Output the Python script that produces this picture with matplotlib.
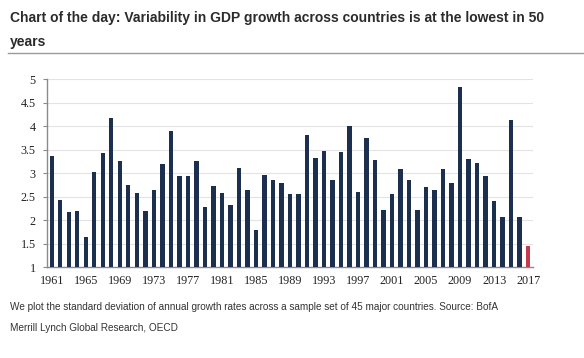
import matplotlib
import numpy as np

matplotlib.use("Agg")
import matplotlib.pyplot as plt
from matplotlib.lines import Line2D

years = list(range(1961, 2018))
values = [3.37, 2.43, 2.17, 2.20, 1.65, 3.03, 3.43, 4.17, 3.25, 2.75,
          2.58, 2.20, 2.65, 3.20, 3.90, 2.93, 2.93, 3.25, 2.27, 2.73,
          2.58, 2.33, 3.10, 2.65, 1.78, 2.95, 2.85, 2.78, 2.55, 2.55,
          3.82, 3.33, 3.48, 2.85, 3.45, 4.00, 2.60, 3.75, 3.28, 2.22,
          2.55, 3.09, 2.86, 2.22, 2.70, 2.63, 3.08, 2.79, 4.84, 3.30,
          3.21, 2.93, 2.40, 2.06, 4.14, 2.06, 1.44]
label_years = list(range(1961, 2018, 4))
yticks = [1, 1.5, 2, 2.5, 3, 3.5, 4, 4.5, 5]

navy = "#1c2f4f"
red = "#c33a4c"
colors = [navy] * (len(years) - 1) + [red]

fig = plt.figure(figsize=(5.84, 3.58), dpi=100)
ax = fig.add_axes([0.080, 0.254, 0.833, 0.525])

ax.bar(years, [v - 1 for v in values], bottom=1, width=0.5, color=colors, zorder=3)
ax.set_xlim(1960.4, 2017.6)
ax.set_ylim(1, 5)
ax.set_yticks(yticks)
ax.set_yticklabels([f"{t:g}" for t in yticks])
ax.set_xticks(years, minor=True)
ax.set_xticks(label_years)
ax.yaxis.grid(True, color="#e3e3e3", lw=0.8, zorder=0)
for s in ["top", "right"]:
    ax.spines[s].set_visible(False)
for s in ["left", "bottom"]:
    ax.spines[s].set_color("#8a8a8a")
    ax.spines[s].set_linewidth(1.0)
ax.tick_params(axis="both", which="both", colors="#8a8a8a", length=3, width=0.8)
ax.tick_params(axis="x", which="both", length=3, direction="in", pad=6)
ax.tick_params(axis="y", length=3, direction="out", pad=5)
for lab in ax.get_xticklabels() + ax.get_yticklabels():
    lab.set_family("Liberation Serif")
    lab.set_fontsize(8.7)
    lab.set_color("#222222")

fig.text(0.017, 0.950, "Chart of the day: Variability in GDP growth across countries is at the lowest in 50",
         family="Liberation Sans", weight="bold", fontsize=10, color="#2b2b2b", va="center")
fig.text(0.017, 0.882, "years", family="Liberation Sans", weight="bold", fontsize=10,
         color="#2b2b2b", va="center")
fig.add_artist(Line2D([0.014, 1.0], [0.853, 0.853], transform=fig.transFigure, color="#9a9a9a", lw=1.0))

fig.text(0.017, 0.142, "We plot the standard deviation of annual growth rates across a sample set of 45 major countries. Source: BofA",
         family="Liberation Sans", fontsize=7.2, color="#333333", va="center")
fig.text(0.017, 0.084, "Merrill Lynch Global Research, OECD",
         family="Liberation Sans", fontsize=7.2, color="#333333", va="center")

fig.savefig("out.png", dpi=100)
